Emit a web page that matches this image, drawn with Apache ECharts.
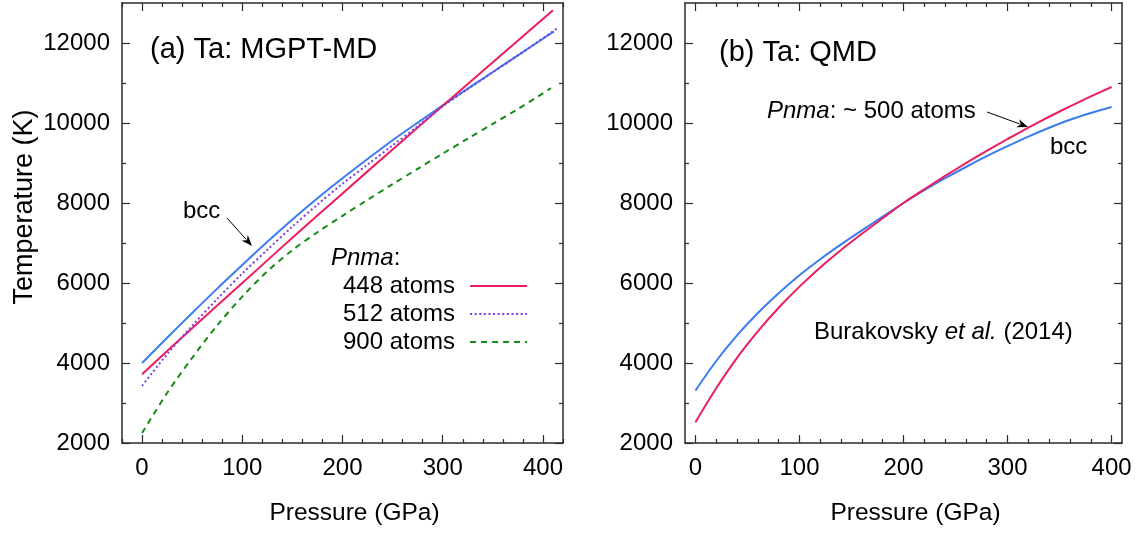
<!DOCTYPE html>
<html>
<head>
<meta charset="utf-8">
<script src="https://cdn.jsdelivr.net/npm/echarts@6/dist/echarts.min.js"></script>
<style>
html,body{margin:0;padding:0;background:#fff;}
#chart{width:1136px;height:533px;}
</style>
</head>
<body>
<div id="chart"></div>
<script>
// ---------- data ----------
// Panel (a): MGPT-MD
const aBccP   = [0, 25, 50, 75, 100, 125, 150, 175, 200, 225, 250, 275, 300, 325, 350, 375, 411];
const aBccT   = [4000, 4630, 5250, 5860, 6450, 7030, 7590, 8120, 8620, 9100, 9570, 10010, 10440, 10860, 11275, 11690, 12290];
const a448P   = [0, 50, 100, 150, 200, 250, 300, 350, 410];
const a448T   = [3720, 4870, 6000, 7130, 8240, 9340, 10430, 11520, 12820];
const a512P   = [0, 25, 50, 75, 100, 125, 150, 175, 200, 225, 250, 275, 300, 325, 350, 375, 414];
const a512T   = [3430, 4220, 4930, 5600, 6240, 6830, 7410, 7960, 8480, 8960, 9440, 9920, 10420, 10850, 11270, 11690, 12360];
const a900P   = [0, 25, 50, 75, 100, 125, 150, 175, 200, 225, 250, 275, 300, 325, 350, 375, 408];
const a900T   = [2250, 3250, 4130, 4940, 5660, 6290, 6820, 7270, 7680, 8080, 8470, 8855, 9235, 9610, 9980, 10350, 10870];
// Panel (b): QMD (Burakovsky et al. 2014)
const bBccP   = [0, 20, 40, 60, 80, 100, 120, 140, 160, 180, 200, 220, 240, 260, 280, 300, 320, 340, 360, 380, 400];
const bBccT   = [3310, 4050, 4690, 5250, 5745, 6195, 6595, 6965, 7315, 7660, 8000, 8320, 8620, 8900, 9170, 9420, 9660, 9880, 10080, 10250, 10400];
const bPnmaP  = [0, 20, 40, 60, 80, 100, 120, 140, 160, 180, 200, 220, 240, 260, 280, 300, 320, 340, 360, 380, 400];
const bPnmaT  = [2520, 3370, 4130, 4790, 5380, 5910, 6390, 6825, 7230, 7620, 8000, 8344, 8676, 8996, 9304, 9600, 9884, 10156, 10416, 10664, 10900];

// ---------- ticks ----------
const xMajor = [0, 100, 200, 300, 400];
const xMinorA = [-20, 20, 40, 60, 80, 120, 140, 160, 180, 220, 240, 260, 280, 320, 340, 360, 380, 420];
const xMinorB = [20, 40, 60, 80, 120, 140, 160, 180, 220, 240, 260, 280, 320, 340, 360, 380];
const yMajor = [2000, 4000, 6000, 8000, 10000, 12000];
const yMinor = [3000, 5000, 7000, 9000, 11000];

const legendNames = ['448 atoms', '512 atoms', '900 atoms'];

// ---------- styles ----------
const FONT = 'Liberation Sans, Arial, Helvetica, sans-serif';
const FRAME = '#2b2b2b';
const C_BLUE = '#3a7cf2', C_RED = '#ee1d5e', C_PURPLE = '#7b3ee6', C_GREEN = '#168a16';
const plain = v => String(v);

function zip(p, t) { return p.map((v, i) => [v, t[i]]); }

function xAxesFor(grid, min, max, minor) {
  const base = { type: 'value', gridIndex: grid, min: min, max: max, splitLine: { show: false } };
  return [
    Object.assign({}, base, {
      position: 'bottom',
      axisLine: { show: true, onZero: false, lineStyle: { color: FRAME, width: 1.5 } },
      axisTick: { show: true, inside: true, length: 8, customValues: xMajor, lineStyle: { color: FRAME, width: 1.2 } },
      axisLabel: { show: true, customValues: xMajor, margin: 13, fontSize: 24, color: '#000', fontFamily: FONT, formatter: plain },
      name: 'Pressure (GPa)', nameLocation: 'middle', nameGap: 58,
      nameTextStyle: { fontSize: 24.5, color: '#000', fontFamily: FONT, padding: [0, 0, 0, 24] }
    }),
    Object.assign({}, base, {
      position: 'bottom',
      axisLine: { show: false, onZero: false },
      axisTick: { show: true, inside: true, length: 4, customValues: minor, lineStyle: { color: FRAME, width: 1.2 } },
      axisLabel: { show: false }
    }),
    Object.assign({}, base, {
      position: 'top',
      axisLine: { show: true, onZero: false, lineStyle: { color: FRAME, width: 1.5 } },
      axisTick: { show: true, inside: true, length: 8, customValues: xMajor, lineStyle: { color: FRAME, width: 1.2 } },
      axisLabel: { show: false }
    }),
    Object.assign({}, base, {
      position: 'top',
      axisLine: { show: false, onZero: false },
      axisTick: { show: true, inside: true, length: 4, customValues: minor, lineStyle: { color: FRAME, width: 1.2 } },
      axisLabel: { show: false }
    })
  ];
}

function yAxesFor(grid, withName) {
  const base = { type: 'value', gridIndex: grid, min: 2000, max: 13000, splitLine: { show: false } };
  const major = Object.assign({}, base, {
    position: 'left',
    axisLine: { show: true, onZero: false, lineStyle: { color: FRAME, width: 1.5 } },
    axisTick: { show: true, inside: true, length: 8, customValues: yMajor, lineStyle: { color: FRAME, width: 1.2 } },
    axisLabel: { show: true, customValues: yMajor, margin: 12, fontSize: 24, color: '#000', fontFamily: FONT, formatter: plain }
  });
  if (withName) {
    major.name = 'Temperature (K)';
    major.nameLocation = 'middle';
    major.nameGap = 84;
    major.nameTextStyle = { fontSize: 27, color: '#000', fontFamily: FONT, padding: [0, 0, 0, 32] };
  }
  return [
    major,
    Object.assign({}, base, {
      position: 'left',
      axisLine: { show: false, onZero: false },
      axisTick: { show: true, inside: true, length: 4, customValues: yMinor, lineStyle: { color: FRAME, width: 1.2 } },
      axisLabel: { show: false }
    }),
    Object.assign({}, base, {
      position: 'right',
      axisLine: { show: true, onZero: false, lineStyle: { color: FRAME, width: 1.5 } },
      axisTick: { show: true, inside: true, length: 8, customValues: yMajor, lineStyle: { color: FRAME, width: 1.2 } },
      axisLabel: { show: false }
    }),
    Object.assign({}, base, {
      position: 'right',
      axisLine: { show: false, onZero: false },
      axisTick: { show: true, inside: true, length: 4, customValues: yMinor, lineStyle: { color: FRAME, width: 1.2 } },
      axisLabel: { show: false }
    })
  ];
}

function line(name, p, t, color, type, xi, yi) {
  return {
    name: name, type: 'line', xAxisIndex: xi, yAxisIndex: yi,
    data: zip(p, t), showSymbol: false, symbol: 'none', smooth: 0.3,
    lineStyle: { color: color, width: 2, type: type }, itemStyle: { color: color },
    silent: true, z: 3
  };
}

function arrow(x1, y1, x2, y2) {
  const dx = x2 - x1, dy = y2 - y1, L = Math.hypot(dx, dy);
  const ux = dx / L, uy = dy / L, hl = 11, hw = 4.2;
  const bx = x2 - ux * hl, by = y2 - uy * hl;
  return [
    { type: 'line', shape: { x1: x1, y1: y1, x2: bx + ux * 2, y2: by + uy * 2 }, style: { stroke: '#000', lineWidth: 1 }, z: 10 },
    { type: 'polygon', shape: { points: [[x2, y2], [bx - uy * hw, by + ux * hw], [x2 - ux * hl * 0.7, y2 - uy * hl * 0.7], [bx + uy * hw, by - ux * hw]] }, style: { fill: '#000' }, z: 10 }
  ];
}

function txt(x, y, text, size, rich) {
  return {
    type: 'text', x: x, y: y, z: 10,
    style: { text: text, fontSize: size, fontFamily: FONT, fill: '#000', verticalAlign: 'middle', align: 'left',
      rich: rich || {} }
  };
}
const italic = { i: { fontStyle: 'italic', fontSize: 24, fontFamily: FONT, fill: '#000' }, n: { fontSize: 24, fontFamily: FONT, fill: '#000' } };

const chart = echarts.init(document.getElementById('chart'), null, { renderer: 'canvas' });
chart.setOption({
  animation: false,
  backgroundColor: '#fff',
  grid: [
    { left: 122, top: 3, width: 441, height: 440 },
    { left: 685, top: 3, width: 437, height: 440 }
  ],
  xAxis: [].concat(xAxesFor(0, -20, 420, xMinorA), xAxesFor(1, -10, 410, xMinorB)),
  yAxis: [].concat(yAxesFor(0, true), yAxesFor(1, false)),
  legend: {
    data: legendNames, orient: 'vertical', left: 343, top: 272, align: 'right',
    itemWidth: 57, itemHeight: 14, itemGap: 0, padding: 0, selectedMode: false,
    itemStyle: { opacity: 0 },
    textStyle: { fontSize: 24, lineHeight: 28, color: '#000', fontFamily: FONT, padding: [0, 10, 0, 0] }
  },
  series: [
    line('bcc', aBccP, aBccT, C_BLUE, 'solid', 0, 0),
    line('448 atoms', a448P, a448T, C_RED, 'solid', 0, 0),
    line('512 atoms', a512P, a512T, C_PURPLE, [2, 2.6], 0, 0),
    line('900 atoms', a900P, a900T, C_GREEN, [6, 5], 0, 0),
    line('bcc (QMD)', bBccP, bBccT, C_BLUE, 'solid', 4, 4),
    line('Pnma ~500 atoms', bPnmaP, bPnmaT, C_RED, 'solid', 4, 4)
  ],
  graphic: [].concat(
    [
      txt(150, 50, '(a) Ta: MGPT-MD', 29),
      txt(719, 53, '(b) Ta: QMD', 29),
      txt(183, 211, 'bcc', 24),
      txt(331, 258, '{i|Pnma}{n|:}', 24, italic),
      txt(767, 111, '{i|Pnma}{n|: ~ 500 atoms}', 24, italic),
      txt(1050, 147, 'bcc', 24),
      txt(814, 332, '{n|Burakovsky }{i|et al.}{n| (2014)}', 24, italic)
    ],
    arrow(227, 218, 252, 246),
    arrow(987, 112, 1028, 127)
  )
});
</script>
</body>
</html>
